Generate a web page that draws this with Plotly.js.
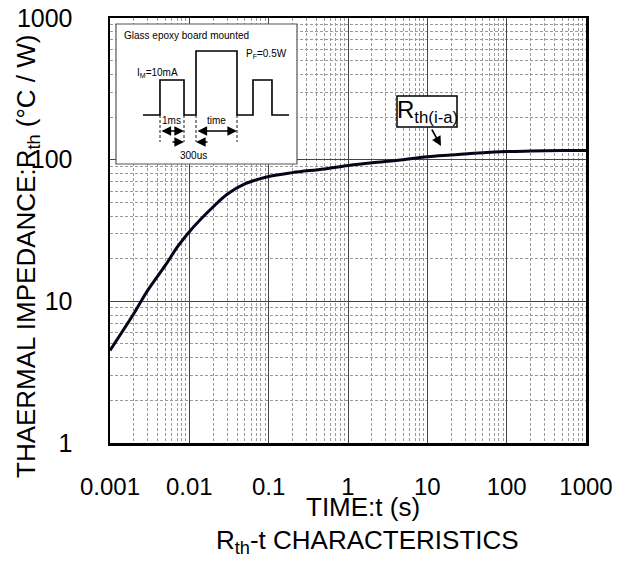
<!DOCTYPE html>
<html>
<head>
<meta charset="utf-8">
<script src="https://cdn.plot.ly/plotly-3.0.1.min.js"></script>
<style>html,body{margin:0;padding:0;background:#fff;}#chart{width:629px;height:563px;}</style>
</head>
<body>
<div id="chart"></div>
<script>
// ---- data ----
var timeS = [0.001, 0.002, 0.003, 0.005, 0.007, 0.01, 0.02, 0.03, 0.05, 0.1, 0.2, 0.5, 1, 2, 5, 10, 20, 50, 100, 200, 500, 1000];
var rthIA = [4.5, 8.2, 12, 18, 24, 31, 46.5, 57, 67.5, 76, 81, 86, 91, 95, 100, 105, 108, 112, 114, 115, 116, 116];
var xTickVals = [0.001, 0.01, 0.1, 1, 10, 100, 1000];
var xTickText = ['0.001', '0.01', '0.1', '1', '10', '100', '1000'];
var yTickVals = [1, 10, 100, 1000];
var yTickText = ['1', '10', '100', '1000'];

// ---- layout helpers (pixel -> paper) ----
var W = 629, H = 563, L = 110, R = 43, T = 18, B = 120;
var PW = W - L - R, PH = H - T - B;
function px(x) { return (x - L) / PW; }
function py(y) { return (H - B - y) / PH; }
var FONT = 'Liberation Sans, Arial, sans-serif';

var pulse = [[143,115],[160,115],[160,80],[184,80],[184,115],[196,115],[196,51],[237,51],[237,115],[253,115],[253,80],[272,80],[272,115],[289,115]];
var path = pulse.map(function (p, i) { return (i ? 'L' : 'M') + px(p[0]).toFixed(4) + ',' + py(p[1]).toFixed(4); }).join(' ');

var shapes = [
  {type:'rect', xref:'paper', yref:'paper', x0:px(116), x1:px(297), y0:py(164), y1:py(24), fillcolor:'#fff', line:{color:'#555', width:1.2}, layer:'above'},
  {type:'path', xref:'paper', yref:'paper', path:path, line:{color:'#000', width:1.6}, layer:'above'},
  {type:'rect', xref:'paper', yref:'paper', x0:px(397), x1:px(457), y0:py(127), y1:py(96), fillcolor:'#fff', line:{color:'#000', width:1.5}, layer:'above'}
];
[160, 184, 196, 237].forEach(function (x) {
  shapes.push({type:'line', xref:'paper', yref:'paper', x0:px(x), x1:px(x), y0:py(115), y1:py(142), line:{color:'#000', width:0.9, dash:'3px,2px'}, layer:'above'});
});

function arrow(x, y, fromx, fromy, both) {
  return {xref:'paper', yref:'paper', x:px(x), y:py(y), ax:fromx - x, ay:fromy - y, axref:'pixel', ayref:'pixel',
    text:'', showarrow:true, arrowhead:2, arrowsize:1.2, arrowwidth:1.6, arrowcolor:'#000', arrowside: both ? 'end+start' : 'end', standoff:0, startstandoff:0};
}
function txt(x, y, s, size, anchor, extra) {
  var a = {xref:'paper', yref:'paper', x:px(x), y:py(y), text:s, showarrow:false, xanchor:anchor || 'center', yanchor:'middle', font:{family:FONT, size:size, color:'#000'}};
  for (var k in extra) a[k] = extra[k];
  return a;
}

var annotations = [
  txt(122, 35, 'Glass epoxy board mounted', 10, 'left'),
  txt(135, 73, 'I<sub>M</sub>=10mA', 10, 'left'),
  txt(244, 54, 'P<sub>F</sub>=0.5W', 10, 'left'),
  txt(171, 121, '1ms', 10),
  txt(216, 121, 'time', 10),
  txt(193, 155, '300us', 10),
  arrow(184, 131, 160, 131, true),
  arrow(237, 131, 196, 131, true),
  arrow(184, 142, 171, 142, false),
  arrow(196, 142, 209, 142, false),
  txt(427, 111, 'R<sub>th(i-a)</sub>', 24),
  arrow(441, 146, 431, 128, false),
  txt(363, 507, 'TIME:t (s)', 26),
  txt(367, 541, 'R<sub>th</sub>-t CHARACTERISTICS', 26),
  {xref:'paper', yref:'paper', x:px(27), y:py(256), text:'THAERMAL IMPEDANCE:R<sub>th</sub> (°C / W)', textangle:-90, showarrow:false,
   xanchor:'center', yanchor:'middle', font:{family:FONT, size:26, color:'#000'}}
];

var trace = {x: timeS, y: rthIA, type:'scatter', mode:'lines', line:{color:'#05051a', width:3, shape:'spline', smoothing:1}, hoverinfo:'skip'};

var minorGrid = {dtick:'D1', showgrid:true, gridcolor:'#9a9a9a', griddash:'3px,2px', gridwidth:1, ticks:''};
var layout = {
  width:W, height:H, margin:{l:L, r:R, t:T, b:B, pad:0},
  paper_bgcolor:'#fff', plot_bgcolor:'#fff', showlegend:false,
  font:{family:FONT, size:24, color:'#000'},
  xaxis:{type:'log', range:[-3, 3], tickvals:xTickVals, ticktext:xTickText, ticks:'', ticklabelstandoff:21,
    showgrid:true, gridcolor:'#444', gridwidth:1, zeroline:false,
    showline:true, mirror:true, linecolor:'#000', linewidth:2.5,
    minor:minorGrid,
    tickfont:{family:FONT, size:24, color:'#000'}},
  yaxis:{type:'log', range:[0, 3], tickvals:yTickVals, ticktext:yTickText, ticks:'', ticklabelstandoff:30,
    showgrid:true, gridcolor:'#444', gridwidth:1, zeroline:false,
    showline:true, mirror:true, linecolor:'#000', linewidth:2.5,
    minor:minorGrid,
    tickfont:{family:FONT, size:25, color:'#000'}},
  shapes:shapes, annotations:annotations
};

Plotly.newPlot('chart', [trace], layout, {staticPlot:true, displayModeBar:false});
</script>
</body>
</html>
